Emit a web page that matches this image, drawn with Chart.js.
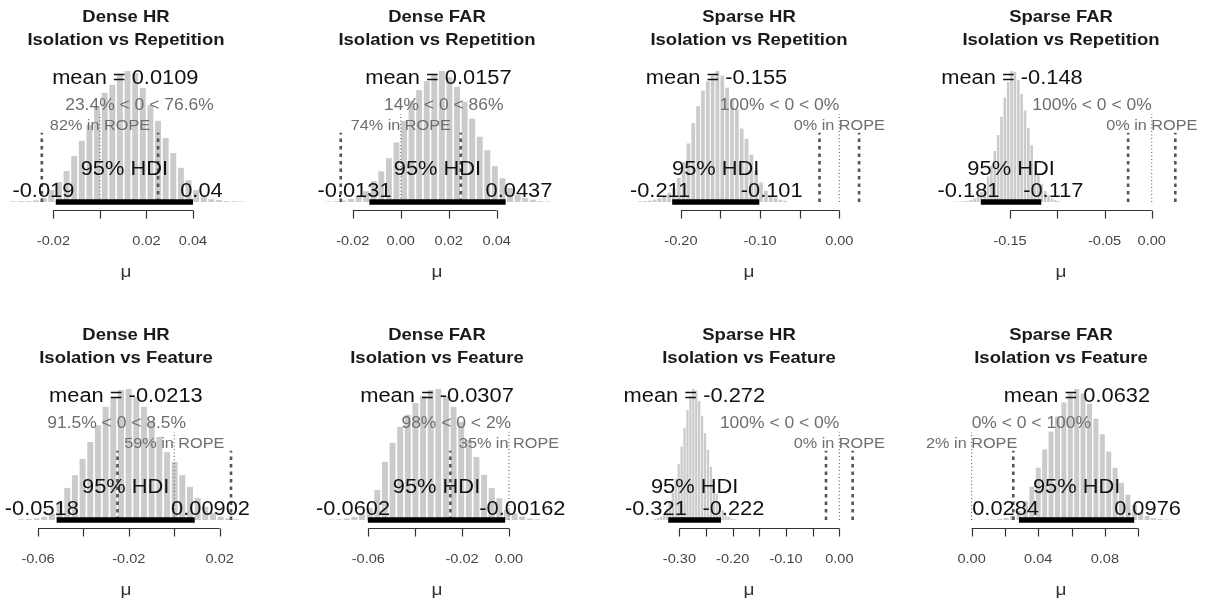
<!DOCTYPE html>
<html>
<head>
<meta charset="utf-8">
<script src="https://cdn.jsdelivr.net/npm/chart.js@4.4.1/dist/chart.umd.min.js"></script>
<style>
  html, body { margin: 0; padding: 0; background: #fff; }
  #wrap { position: relative; width: 1205px; height: 605px; overflow: hidden; background: #fff; }
  #wrap canvas { position: absolute; }
</style>
</head>
<body>
<div id="wrap"></div>
<script>
// Posterior of mu for 8 contrasts: histogram + mean, HDI, ROPE and P(<0) summaries

const titleTop = ['Dense HR', 'Dense FAR', 'Sparse HR', 'Sparse FAR', 'Dense HR', 'Dense FAR', 'Sparse HR', 'Sparse FAR'];
const titleBottom = ['Isolation vs Repetition', 'Isolation vs Repetition', 'Isolation vs Repetition', 'Isolation vs Repetition',
  'Isolation vs Feature', 'Isolation vs Feature', 'Isolation vs Feature', 'Isolation vs Feature'];

const means = [0.0109, 0.0157, -0.155, -0.148, -0.0213, -0.0307, -0.272, 0.0632];
const hdiLow = [-0.019, -0.0131, -0.211, -0.181, -0.0518, -0.0602, -0.321, 0.0284];
const hdiHigh = [0.04, 0.0437, -0.101, -0.117, 0.00902, -0.00162, -0.222, 0.0976];
const pctBelow = [23.4, 14, 100, 100, 91.5, 98, 100, 0];
const pctAbove = [76.6, 86, 0, 0, 8.5, 2, 0, 100];
const pctInRope = [82, 74, 0, 0, 59, 35, 0, 2];
const compVal = 0;
const rope = [-0.025, 0.025];

// x range of each plot
const xRanges = [
  [-0.0404, 0.0628], [-0.0349, 0.0651], [-0.2655, 0.0375], [-0.2232, 0.0310],
  [-0.0741, 0.0316], [-0.0819, 0.0205], [-0.3946, 0.0557], [-0.0184, 0.1257]
];

const tickValues = [
  [-0.02, 0, 0.02, 0.04],
  [-0.02, 0, 0.02, 0.04],
  [-0.2, -0.15, -0.1, -0.05, 0],
  [-0.15, -0.1, -0.05, 0],
  [-0.06, -0.04, -0.02, 0, 0.02],
  [-0.06, -0.04, -0.02, 0],
  [-0.3, -0.25, -0.2, -0.15, -0.1, -0.05, 0],
  [0, 0.02, 0.04, 0.06, 0.08, 0.1]
];
// R drops labels that would collide
const tickLabels = [
  ['-0.02', '', '0.02', '0.04'],
  ['-0.02', '0.00', '0.02', '0.04'],
  ['-0.20', '', '-0.10', '', '0.00'],
  ['-0.15', '', '-0.05', '0.00'],
  ['-0.06', '', '-0.02', '', '0.02'],
  ['-0.06', '', '-0.02', '0.00'],
  ['-0.30', '', '-0.20', '', '-0.10', '', '0.00'],
  ['0.00', '', '0.04', '', '0.08', '']
];

// centre of the first histogram bin (bins are HDI width / 18 wide)
const binStart = [-0.0373, -0.0302, -0.2516, -0.2089, -0.0674, -0.0757, -0.3454, 0.00925];

// posterior density per bin
const densities = [
  [0.15, 0.2, 0.2, 0.36, 0.84, 2.5, 4.2, 6.5, 9.7, 12.9, 16.2, 20.2, 23.0, 24.7, 26.8, 27.6, 27.2, 24.0, 20.4, 17.1, 13.5, 10.3, 7.2, 4.6, 2.5, 1.3, 0.6, 0.4, 0.2, 0.15, 0.1],
  [0.1, 0.15, 0.32, 0.64, 1.3, 2.3, 4.5, 6.6, 9.4, 12.8, 17.4, 21.7, 24.0, 25.9, 27.2, 28.1, 26.8, 24.7, 21.5, 17.9, 14.0, 11.1, 7.7, 5.1, 3.0, 1.5, 0.85, 0.49, 0.21, 0.1],
  [0.08, 0.1, 0.15, 0.25, 0.41, 0.63, 1.0, 1.5, 2.6, 4.3, 6.3, 8.5, 10.3, 12.0, 13.0, 13.6, 14.1, 13.6, 12.3, 11.1, 10.0, 7.9, 6.8, 5.1, 3.4, 2.1, 1.2, 0.66, 0.44, 0.25, 0.14],
  [0.1, 0.1, 0.12, 0.15, 0.25, 0.42, 0.74, 1.3, 2.1, 3.4, 5.3, 7.6, 10.6, 13.9, 17.7, 21.7, 24.9, 27.2, 27.0, 25.3, 22.4, 19.0, 15.4, 11.8, 8.4, 5.9, 3.8, 2.3, 1.4, 0.74, 0.42, 0.21],
  [0.14, 0.2, 0.33, 0.65, 1.3, 3.5, 6.3, 8.8, 12.0, 15.3, 18.6, 22.2, 24.1, 25.5, 25.7, 24.1, 22.2, 19.2, 16.3, 13.3, 11.4, 8.8, 6.5, 4.3, 2.6, 1.4, 0.65, 0.33, 0.14],
  [0.1, 0.14, 0.31, 0.62, 1.4, 2.5, 6.2, 12.0, 15.9, 19.2, 21.7, 24.1, 25.6, 26.8, 27.0, 25.6, 23.3, 20.2, 16.5, 13.0, 9.3, 6.6, 4.5, 2.1, 1.4, 0.72, 0.31, 0.14, 0.1],
  [0.13, 0.27, 0.47, 0.8, 1.5, 2.4, 3.7, 5.5, 7.5, 9.8, 12.3, 14.7, 16.6, 17.5, 17.3, 15.9, 13.9, 11.6, 9.4, 7.1, 5.1, 3.5, 2.1, 1.3, 0.74, 0.4, 0.2, 0.11],
  [0.1, 0.1, 0.19, 0.37, 0.75, 1.7, 3.5, 6.2, 9.7, 13.1, 16.4, 19.2, 21.8, 23.5, 24.3, 23.5, 21.6, 18.8, 15.9, 12.7, 9.7, 6.9, 4.7, 2.8, 1.5, 0.75, 0.37, 0.19, 0.09, 0.08, 0.08]
];

const FONT = '"Liberation Sans", Arial, Helvetica, sans-serif';
const SX = 1.12;            // text is a little wider than tall in this layout
const CANVAS_W = 310, CANVAS_H = 318;
const colLeft = [-29, 282, 594, 906];
const rowTop = [0, 318];

// text with R-style horizontal adj (0 = left, .5 = centre, 1 = right)
function rText(ctx, str, x, y, adj, size, color, weight) {
  ctx.save();
  ctx.font = (weight || 'normal') + ' ' + size + 'px ' + FONT;
  ctx.fillStyle = color;
  ctx.textAlign = 'left';
  ctx.textBaseline = 'alphabetic';
  const w = ctx.measureText(str).width * SX;
  ctx.translate(x - adj * w, y);
  ctx.scale(SX, 1);
  ctx.fillText(str, 0, 0);
  ctx.restore();
}

function makePanel(i) {
  const canvas = document.createElement('canvas');
  canvas.width = CANVAS_W;
  canvas.height = CANVAS_H;
  canvas.style.left = colLeft[i % 4] + 'px';
  canvas.style.top = rowTop[Math.floor(i / 4)] + 'px';
  document.getElementById('wrap').appendChild(canvas);

  const dens = densities[i];
  const binW = (hdiHigh[i] - hdiLow[i]) / 18;
  const bars = dens.map((d, k) => ({ x: binStart[i] + k * binW, y: d }));
  const maxD = Math.max(...dens);
  const ropeTop = 0.96 * 0.55 * maxD;
  const compTop = 0.96 * 0.7 * maxD;

  const annotate = {
    id: 'plotPost',
    afterDatasetsDraw(chart) {
      const { ctx, scales: { x, y } } = chart;
      const y0 = y.getPixelForValue(0);

      rText(ctx, 'mean = ' + String(means[i]), x.getPixelForValue(means[i]),
        y.getPixelForValue(0.9 * maxD), 0.5, 19.5, '#111');

      rText(ctx, pctBelow[i] + '% < ' + compVal + ' < ' + pctAbove[i] + '%',
        x.getPixelForValue(compVal), y.getPixelForValue(0.7 * maxD),
        pctBelow[i] / 100, 15.6, '#6e6e6e');

      rText(ctx, pctInRope[i] + '% in ROPE', x.getPixelForValue((rope[0] + rope[1]) / 2),
        y.getPixelForValue(0.55 * maxD), 0.5, 14.5, '#6e6e6e');

      rText(ctx, '95% HDI', x.getPixelForValue((hdiLow[i] + hdiHigh[i]) / 2), y0 - 27, 0.5, 19.5, '#111');
      rText(ctx, String(hdiLow[i]), x.getPixelForValue(hdiLow[i]), y0 - 5, 0.7, 19.5, '#111');
      rText(ctx, String(hdiHigh[i]), x.getPixelForValue(hdiHigh[i]), y0 - 5, 0.3, 19.5, '#111');
    },
    afterDraw(chart) {
      const { ctx, chartArea, scales: { x } } = chart;
      const ticks = tickValues[i];
      const axisY = chartArea.bottom + 0.5;
      ctx.save();
      ctx.strokeStyle = '#333';
      ctx.lineWidth = 1.2;
      ctx.beginPath();
      ctx.moveTo(x.getPixelForValue(ticks[0]), axisY);
      ctx.lineTo(x.getPixelForValue(ticks[ticks.length - 1]), axisY);
      ticks.forEach(t => {
        const px = Math.round(x.getPixelForValue(t)) + 0.5;
        ctx.moveTo(px, axisY);
        ctx.lineTo(px, axisY + 8);
      });
      ctx.stroke();
      ctx.restore();

      ticks.forEach((t, k) => {
        if (tickLabels[i][k]) rText(ctx, tickLabels[i][k], x.getPixelForValue(t), axisY + 34, 0.5, 13, '#444');
      });

      const cx = (chartArea.left + chartArea.right) / 2;
      rText(ctx, 'μ', cx, axisY + 66, 0.5, 17, '#333');
      rText(ctx, titleTop[i], cx, 22, 0.5, 16.5, '#1a1a1a', 'bold');
      rText(ctx, titleBottom[i], cx, 45, 0.5, 16.5, '#1a1a1a', 'bold');
    }
  };

  return new Chart(canvas.getContext('2d'), {
    type: 'bar',
    data: {
      datasets: [
        {
          type: 'line',
          data: [{ x: hdiLow[i], y: 0 }, { x: hdiHigh[i], y: 0 }],
          borderColor: '#000',
          borderWidth: 5.5,
          borderCapStyle: 'butt',
          pointRadius: 0,
          order: 0
        },
        {
          type: 'line',
          data: [{ x: rope[0], y: 0 }, { x: rope[0], y: ropeTop }],
          borderColor: '#555',
          borderWidth: 2.6,
          borderDash: [3.5, 4],
          pointRadius: 0,
          order: 1
        },
        {
          type: 'line',
          data: [{ x: rope[1], y: 0 }, { x: rope[1], y: ropeTop }],
          borderColor: '#555',
          borderWidth: 2.6,
          borderDash: [3.5, 4],
          pointRadius: 0,
          order: 1
        },
        {
          type: 'line',
          data: [{ x: compVal, y: 0 }, { x: compVal, y: compTop }],
          borderColor: '#555',
          borderWidth: 1,
          borderDash: [1, 2.5],
          pointRadius: 0,
          order: 1
        },
        {
          type: 'bar',
          data: bars,
          backgroundColor: '#cbcbcb',
          borderWidth: 0,
          barPercentage: 0.78,
          categoryPercentage: 1,
          order: 3
        }
      ]
    },
    options: {
      responsive: false,
      animation: false,
      devicePixelRatio: 1,
      events: [],
      layout: { padding: { top: 60, bottom: 108, left: 35, right: 35 } },
      plugins: { legend: { display: false }, tooltip: { enabled: false }, title: { display: false } },
      scales: {
        x: {
          type: 'linear',
          display: false,
          offset: false,
          min: xRanges[i][0],
          max: xRanges[i][1]
        },
        y: {
          type: 'linear',
          display: false,
          min: -maxD * 8 / 131,
          max: maxD * 142 / 131
        }
      }
    },
    plugins: [annotate]
  });
}

for (let i = 0; i < 8; i++) makePanel(i);
</script>
</body>
</html>
